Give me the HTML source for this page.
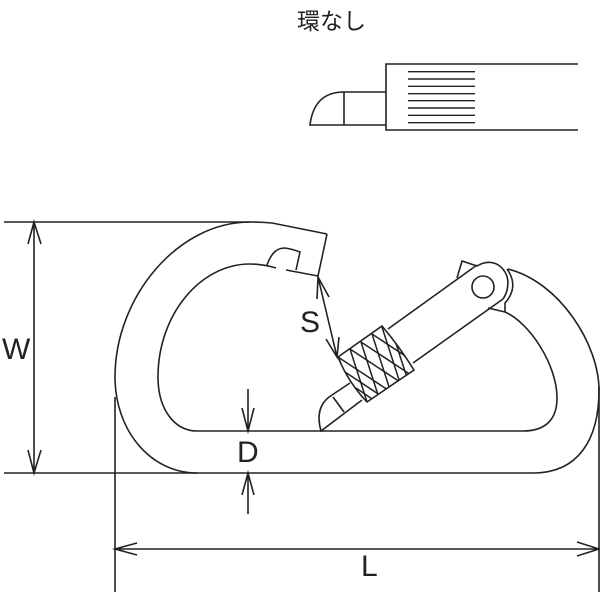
<!DOCTYPE html>
<html><head><meta charset="utf-8"><style>
html,body{margin:0;padding:0;background:#fff;width:600px;height:600px;overflow:hidden}
svg{display:block}
text{font-family:"Liberation Sans","Noto Sans CJK JP",sans-serif;fill:#222}
</style></head><body>
<svg width="600" height="600" viewBox="0 0 600 600" xmlns="http://www.w3.org/2000/svg">
<defs><clipPath id="k"><path d="M338 357L382 326Q399 346 414 370L367 402Q348 382 338 357Z"/></clipPath></defs>
<rect width="600" height="600" fill="#fff"/>
<g fill="none" stroke="#222" stroke-width="1.6">
<!-- top detail -->
<path d="M578 64H386V130H578"/>
<path d="M408 71.7H475M408 79H475M408 86.3H475M408 93.7H475M408 100.7H475M408 108H475M408 115.3H475M408 122.7H475" stroke-width="1.4"/>
<path d="M386 92H344Q314 92 310 125H386M344 92V125"/>
<!-- body outer -->
<path d="M327 234L272 223Q262 222 250 222C177 222 115 298 115 377C115 430 150 473 197 473H533C578 473 599 440 599 390C599 345 560 282 508 269"/>
<path d="M327 234L318 276L286 270"/>
<!-- body inner -->
<path d="M276 268Q262 264 250 264C200 264 158 315 158 377C158 410 175 431 197 431H523C545 431 557 420 557 398C557 365 530 323 505 312L488 308"/>
<!-- hook -->
<path d="M267 265C271 254 276 248 285 248Q292 249 300 252L296 270"/>
<!-- gate -->
<path d="M388 329L477 265M413 363L503 299"/>
<path d="M457 278L462 261L477 266C487 260 498 261 505 272C510 280 508 292 503 299"/>
<path d="M507 269C515 280 515 292 505 303V312"/>
<circle cx="483" cy="287" r="11"/>
<!-- knurl -->
<path d="M338 357L382 326Q399 346 414 370L367 402Q348 382 338 357Z"/>
<g clip-path="url(#k)" stroke-width="1.5">
<path d="M339 358L358 417M350 349L369 408M361 342L380 401M372 334L391 393M382 327L401 386M391 328L410 387"/>
<path d="M338 357L388 390M345 372L395 405M356 388L381 405M350 349L400 382M361 342L411 375M372 334L422 367"/>
</g>
<!-- lower gate -->
<path d="M350 383L332 395Q314 406 321 431L362 400M333 397L344 412"/>
<!-- dimensions -->
<path d="M4 222H250M4 473H197"/>
<path d="M34 222V473M28 244L34 222L41 244M28 450L34 473L41 450"/>
<path d="M248 389V431M242 408L248 431L254 408"/>
<path d="M248 473V514M242 495L248 473L254 495"/>
<path d="M115 397V592M599 387V592"/>
<path d="M115 549H599M137 543L115 549L137 555M577 542L599 549L577 556"/>
<!-- S arrow -->
<path d="M318 277L337 357M317 299L318 277L329 297M326 339L337 357L339 337"/>
</g>
<text x="297" y="29" font-size="23">環なし</text>
<text x="300" y="332" font-size="30">S</text>
<text x="2" y="359" font-size="30">W</text>
<text x="237" y="462" font-size="30">D</text>
<text x="361" y="576" font-size="30">L</text>
</svg>
</body></html>
